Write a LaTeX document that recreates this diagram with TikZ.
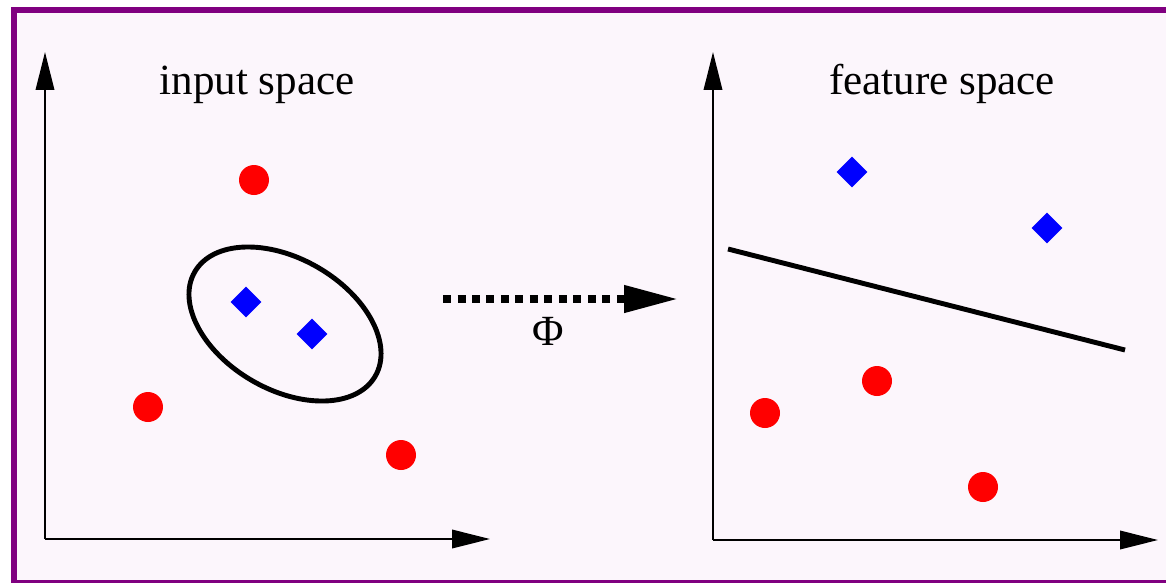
\documentclass[tikz,border=0pt]{standalone}
\usepackage{fontspec}
\setmainfont{Liberation Serif}
\definecolor{framepurple}{RGB}{128,0,128}
\definecolor{bgpink}{RGB}{252,246,252}
\usetikzlibrary{shapes.geometric,arrows.meta,positioning,calc}

\begin{document}
\begin{tikzpicture}[x=0.02cm, y=-0.02cm,
    redpt/.style={circle, fill=red, inner sep=0pt, minimum size=0.6cm},
    bluept/.style={diamond, fill=blue, inner sep=0pt, minimum size=0.62cm},
    axis/.style={line width=1.1pt, -{Triangle[length=0.76cm, width=0.37cm]}},
    title/.style={anchor=base, font=\fontsize{24.5}{29}\selectfont},
    bold/.style={line width=2.8pt}]

\useasboundingbox (0,0) rectangle (1166,582);
\clip (0,0) rectangle (1166,582);

% Frame
\draw[framepurple, line width=0.12cm, fill=bgpink] (14,10) rectangle (1180,583);

% Axes
\coordinate (o1) at (45,539);
\coordinate (y1) at (45,52);
\coordinate (x1) at (490,539);
\coordinate (o2) at (713,540);
\coordinate (y2) at (713,52);
\coordinate (x2) at (1158,540);
\draw[axis] (o1) -- (y1);
\draw[axis] (o1) -- (x1);
\draw[axis] (o2) -- (y2);
\draw[axis] (o2) -- (x2);

% Titles
\node[title] (t1) at (257,94) {input space};
\node[title] (t2) at (942,94) {feature space};

% Input space
\node[draw, bold, ellipse, rotate=-30, minimum width=4.17cm, minimum height=2.62cm] (cluster) at (285,324) {};
\node[redpt] (r1) at (254,180) {};
\node[redpt] (r2) at (148,407) {};
\node[redpt] (r3) at (401,455) {};
\node[bluept] (b1) at (246,302) {};
\node[bluept] (b2) at (312,334) {};

% Mapping
\coordinate (m1) at (443,299);
\coordinate (m2) at (678,299);
\draw[line width=0.15cm, dash pattern=on 0.16cm off 0.13cm,
      -{Triangle[length=1.08cm, width=0.52cm]}] (m1) -- (m2);
\node[title] (phi) at (548,345) {Φ};

% Feature space
\coordinate (h1) at (728,249);
\coordinate (h2) at (1125,350);
\draw[bold] (h1) -- (h2);
\node[bluept] (b3) at (852,172) {};
\node[bluept] (b4) at (1047,228) {};
\node[redpt] (r4) at (765,413) {};
\node[redpt] (r5) at (877,381) {};
\node[redpt] (r6) at (983,487) {};
\end{tikzpicture}
\end{document}
